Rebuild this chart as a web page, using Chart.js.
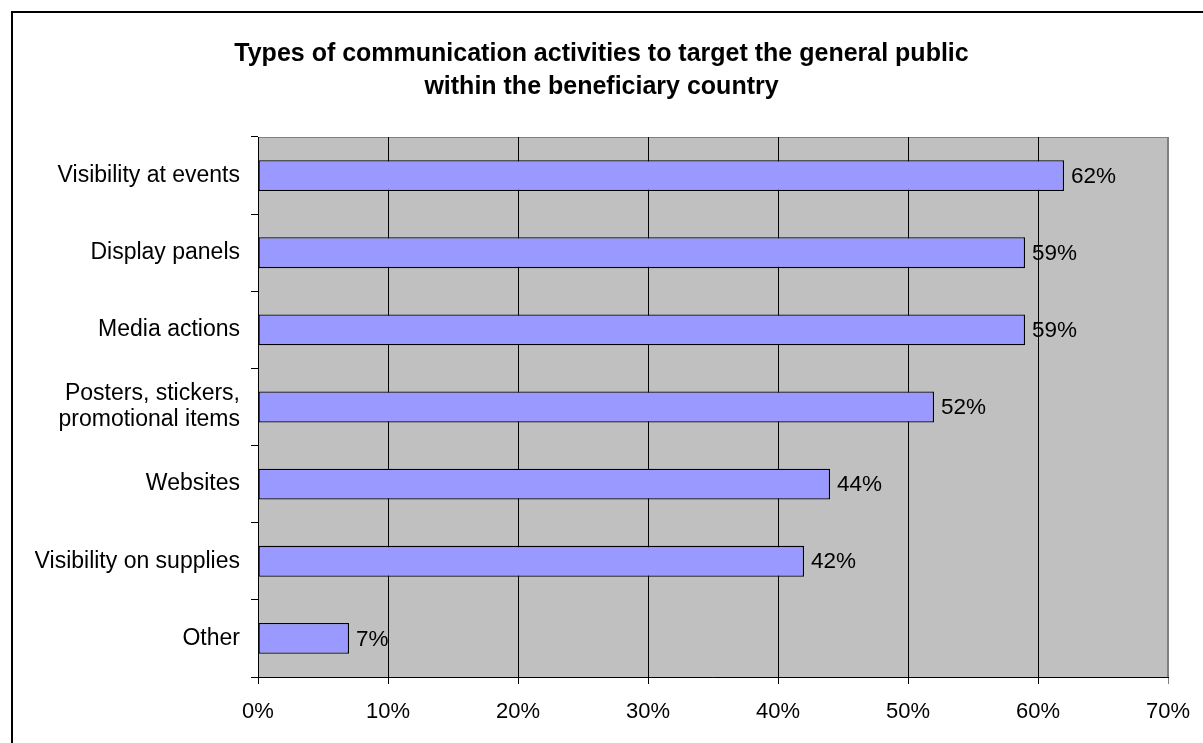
<!DOCTYPE html>
<html>
<head>
<meta charset="utf-8">
<script src="https://cdn.jsdelivr.net/npm/chart.js@4.4.1/dist/chart.umd.min.js"></script>
<style>
    html, body { margin: 0; padding: 0; background: #fff; overflow: hidden; }
    #wrap { position: relative; width: 1203px; height: 743px; }
    #frame {
        position: absolute; left: 11px; top: 11px; right: -20px; bottom: -20px;
        border: 2px solid #000; pointer-events: none;
    }
</style>
</head>
<body>
<div id="wrap">
    <canvas id="commChart" width="1203" height="743"></canvas>
    <div id="frame"></div>
</div>
<script>
// Share of respondents per activity type (%)
const categories = [
    'Visibility at events',
    'Display panels',
    'Media actions',
    ['Posters, stickers,', 'promotional items'],
    'Websites',
    'Visibility on supplies',
    'Other'
];
const shares = [62, 59, 59, 52, 44, 42, 7];
const xTicks = [0, 10, 20, 30, 40, 50, 60, 70];

const FONT = '"Liberation Sans", Arial, Helvetica, sans-serif';

// grey plot area with a thin grey frame, Excel style
const plotBackground = {
    id: 'plotBackground',
    beforeDraw(chart) {
        const { ctx, chartArea: a } = chart;
        ctx.save();
        ctx.fillStyle = '#C0C0C0';
        ctx.fillRect(a.left, a.top, a.right - a.left, a.bottom - a.top);
        ctx.strokeStyle = '#808080';
        ctx.lineWidth = 1;
        ctx.strokeRect(a.left + 0.5, a.top + 0.5, a.right - a.left - 1, a.bottom - a.top);
        ctx.restore();
    }
};

// percentage labels right of each bar
const barValues = {
    id: 'barValues',
    afterDatasetsDraw(chart) {
        const { ctx } = chart;
        const meta = chart.getDatasetMeta(0);
        ctx.save();
        ctx.font = '22.5px ' + FONT;
        ctx.fillStyle = '#000';
        ctx.textAlign = 'left';
        ctx.textBaseline = 'middle';
        meta.data.forEach((bar, i) => {
            ctx.fillText(shares[i] + '%', bar.x + 7, bar.y + 1);
        });
        ctx.restore();
    }
};

new Chart(document.getElementById('commChart'), {
    type: 'bar',
    data: {
        labels: categories,
        datasets: [{
            data: shares,
            backgroundColor: '#9999FF',
            borderColor: '#000',
            borderWidth: 1.3,
            borderSkipped: false,
            categoryPercentage: 1,
            barPercentage: 0.4
        }]
    },
    options: {
        indexAxis: 'y',
        responsive: false,
        animation: false,
        devicePixelRatio: 1,
        layout: { padding: { left: 35, right: 35, top: 0, bottom: 0 } },
        plugins: {
            legend: { display: false },
            tooltip: { enabled: false },
            title: {
                display: true,
                text: ['Types of communication activities to target the general public',
                       'within the beneficiary country'],
                color: '#000',
                font: { family: FONT, size: 25, weight: 'bold', lineHeight: 1.32 },
                padding: { top: 38, bottom: 33 }
            }
        },
        scales: {
            x: {
                min: 0,
                max: 70,
                afterBuildTicks: (scale) => { scale.ticks = xTicks.map(v => ({ value: v })); },
                afterFit: (scale) => {
                    scale.height = 66;
                    // end labels may hang into the right margin
                    scale.paddingLeft = 0;
                    scale.paddingRight = 0;
                },
                border: { display: true, color: '#000', width: 1 },
                grid: {
                    color: (c) => (c.tick && c.tick.value === 70 ? '#808080' : '#000'),
                    lineWidth: 1,
                    drawTicks: true,
                    tickLength: 7
                },
                ticks: {
                    color: '#000',
                    font: { family: FONT, size: 22 },
                    padding: 15,
                    callback: (v) => v + '%'
                }
            },
            y: {
                afterFit: (scale) => { scale.width = 223; },
                border: { display: true, color: '#000', width: 1 },
                grid: {
                    offset: true,
                    drawOnChartArea: false,
                    drawTicks: true,
                    tickLength: 7,
                    color: '#000'
                },
                ticks: {
                    color: '#000',
                    font: { family: FONT, size: 23, lineHeight: 1.13 },
                    padding: 11
                }
            }
        }
    },
    plugins: [plotBackground, barValues]
});
</script>
</body>
</html>
